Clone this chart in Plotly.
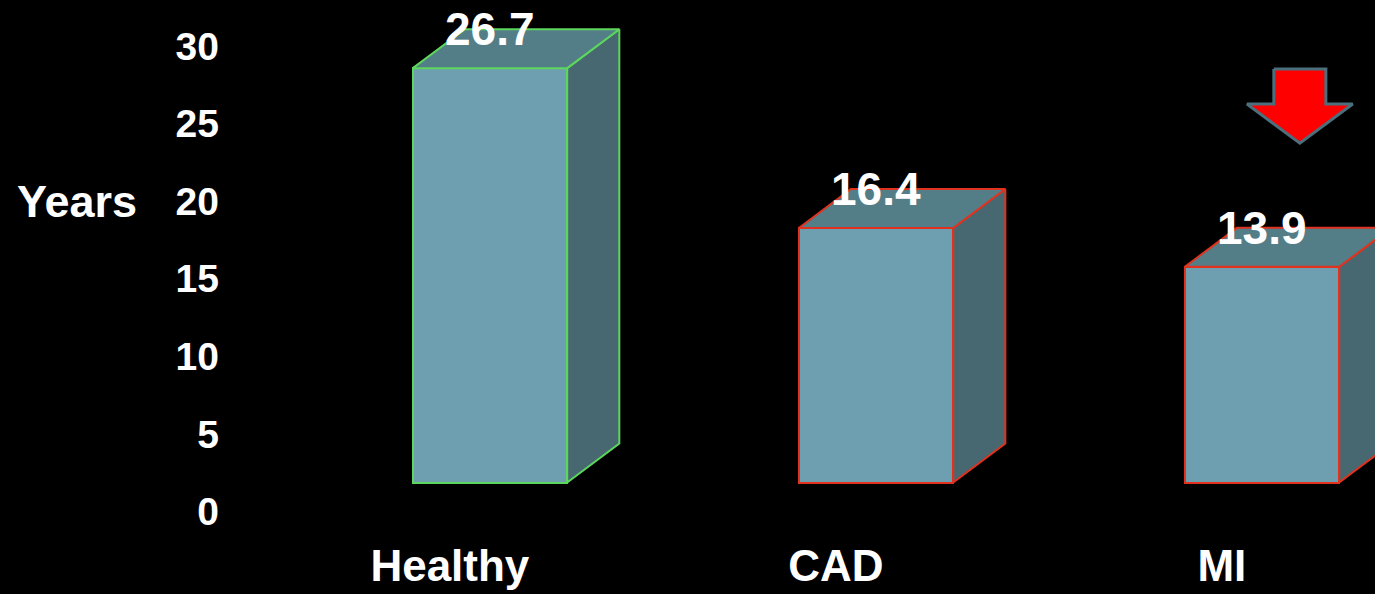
import plotly.graph_objects as go

# Data
categories = ["Healthy", "CAD", "MI"]
values = [26.7, 16.4, 13.9]
edge_colors = ["#5cd65c", "#e0321e", "#e0321e"]
tick_values = [0, 5, 10, 15, 20, 25, 30]

# 3D box styling (in axis units)
BASE = 1.87        # floor of the boxes
HALF_W = 0.2       # half width of the front face
DX = 0.135         # depth offset along x
DY = 2.51          # depth offset along y
FRONT = "#6e9fb0"
TOP = "#537e88"
SIDE = "#476870"
FONT = "Liberation Sans, Arial, sans-serif"

fig = go.Figure()

xs = list(range(len(categories)))

# front faces
fig.add_trace(go.Bar(
    x=xs, y=values, base=[BASE] * len(values), width=2 * HALF_W,
    marker=dict(color=FRONT, line=dict(color=edge_colors, width=2)),
    hoverinfo="skip", showlegend=False,
))

# side and top faces
for x, v, ec in zip(xs, values, edge_colors):
    top = BASE + v
    side_x = [x + HALF_W, x + HALF_W + DX, x + HALF_W + DX, x + HALF_W, x + HALF_W]
    side_y = [BASE, BASE + DY, top + DY, top, BASE]
    fig.add_trace(go.Scatter(
        x=side_x, y=side_y, mode="lines", fill="toself", fillcolor=SIDE,
        line=dict(color=ec, width=2), hoverinfo="skip", showlegend=False,
    ))
    top_x = [x - HALF_W, x - HALF_W + DX, x + HALF_W + DX, x + HALF_W, x - HALF_W]
    top_y = [top, top + DY, top + DY, top, top]
    fig.add_trace(go.Scatter(
        x=top_x, y=top_y, mode="lines", fill="toself", fillcolor=TOP,
        line=dict(color=ec, width=2), hoverinfo="skip", showlegend=False,
    ))
    # value label sitting on the back edge of the top face
    fig.add_annotation(
        x=x, y=top + DY, text=f"{v}", showarrow=False,
        xanchor="center", yanchor="middle",
        font=dict(family=FONT, size=46, color="white", weight="bold"),
    )

# red down arrow above the MI box
ax, ay = 2.098, 23.74
shaft, head = 0.0674, 0.137
arrow_x = [ax - shaft, ax + shaft, ax + shaft, ax + head, ax, ax - head, ax - shaft, ax - shaft]
arrow_y = [28.51, 28.51, 26.26, 26.26, ay, 26.26, 26.26, 28.51]
fig.add_trace(go.Scatter(
    x=arrow_x, y=arrow_y, mode="lines", fill="toself", fillcolor="#ff0000",
    line=dict(color="#4b6f7c", width=3), hoverinfo="skip", showlegend=False,
))

fig.add_annotation(
    x=-0.0795, xref="paper", y=20, yref="y", text="Years", showarrow=False,
    xanchor="right", yanchor="middle",
    font=dict(family=FONT, size=45, color="white", weight="bold"),
)

fig.update_layout(
    width=1375, height=594,
    margin=dict(l=230, r=0, t=0, b=52),
    paper_bgcolor="black", plot_bgcolor="black",
    bargap=0,
    xaxis=dict(
        range=[-0.6736, 2.2927], tickmode="array",
        tickvals=[x - 0.104 for x in xs], ticktext=categories,
        showgrid=False, zeroline=False, showline=False, ticks="",
        tickfont=dict(family=FONT, size=44, color="white", weight="bold"),
        ticklabelstandoff=-6, automargin=False,
    ),
    yaxis=dict(
        range=[-1.96, 32.96], tickmode="array", tickvals=tick_values,
        showgrid=False, zeroline=False, showline=False, ticks="",
        tickfont=dict(family=FONT, size=39, color="white", weight="bold"),
        ticklabelstandoff=10, automargin=False,
    ),
)

fig.write_html("out.html")
